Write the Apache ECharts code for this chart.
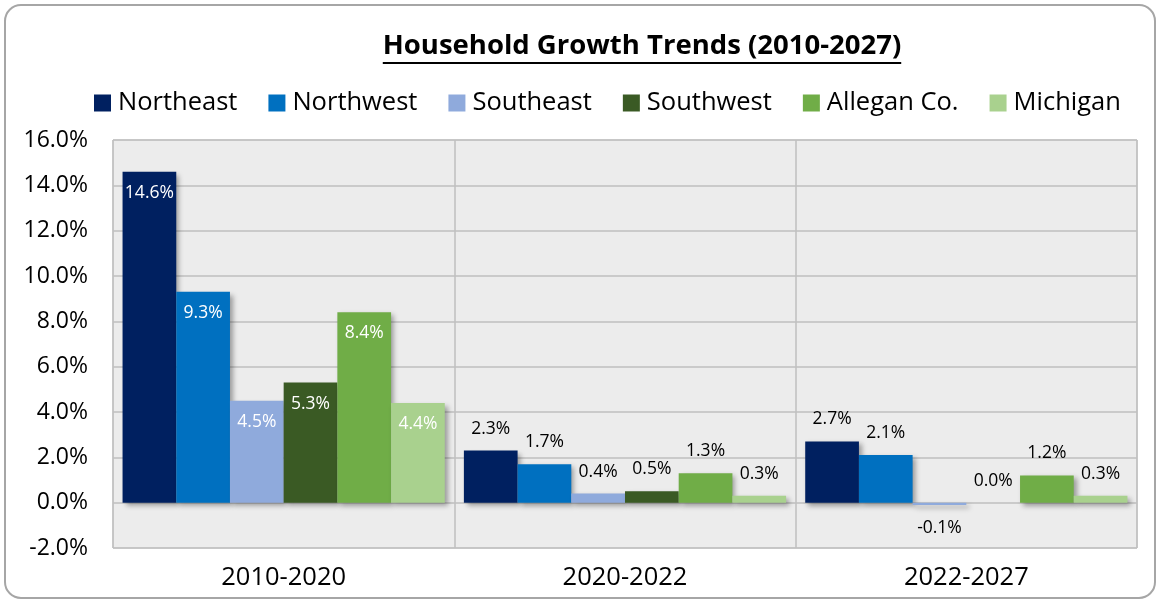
<!DOCTYPE html>
<html>
<head>
<meta charset="utf-8">
<script src="https://cdn.jsdelivr.net/npm/echarts@6/dist/echarts.min.js"></script>
<style>html,body{margin:0;padding:0;background:#fff}#c{width:1160px;height:603px}</style>
</head>
<body>
<div id="c"></div>
<script>
const categories = ['2010-2020', '2020-2022', '2022-2027'];
const seriesNames = ['Northeast', 'Northwest', 'Southeast', 'Southwest', 'Allegan Co.', 'Michigan'];
const northeast = [14.6, 2.3, 2.7];
const northwest = [9.3, 1.7, 2.1];
const southeast = [4.5, 0.4, -0.1];
const southwest = [5.3, 0.5, 0.0];
const allegan = [8.4, 1.3, 1.2];
const michigan = [4.4, 0.3, 0.3];
const yTicks = [-2, 0, 2, 4, 6, 8, 10, 12, 14, 16];
const titleText = 'Household Growth Trends (2010-2027)';

const colors = ['#002060', '#0070C0', '#8FAADC', '#3A5A24', '#70AD47', '#A9D18E'];
const values = [northeast, northwest, southeast, southwest, allegan, michigan];
const FONT = '"Open Sans", sans-serif';

const chart = echarts.init(document.getElementById('c'));

const ctx = document.createElement('canvas').getContext('2d');
ctx.font = 'bold 27.5px ' + FONT;
const tw = ctx.measureText(titleText).width;
const titleCx = 642;

const series = values.map((arr, si) => ({
  name: seriesNames[si],
  type: 'bar',
  barGap: '0%',
  barCategoryGap: '5.6%',
  itemStyle: {
    color: colors[si],
    shadowColor: 'rgba(0,0,0,0.35)',
    shadowBlur: 5,
    shadowOffsetX: 3,
    shadowOffsetY: 3
  },
  data: arr.map((v, ci) => {
    let label;
    if (ci === 0) {
      label = { show: true, position: 'insideTop', distance: 12, color: '#fff' };
    } else if (v < 0) {
      label = { show: true, position: 'bottom', distance: 14, color: '#000' };
    } else {
      label = { show: true, position: 'top', distance: 13, color: '#000' };
    }
    return { value: v, label: label };
  }),
  label: {
    fontSize: 17.5,
    fontFamily: FONT,
    formatter: p => p.value.toFixed(1) + '%'
  }
}));

chart.setOption({
  animation: false,
  backgroundColor: '#fff',
  textStyle: { fontFamily: FONT },
  graphic: [
    { type: 'rect', shape: { x: 5, y: 5, width: 1150, height: 593, r: 16 },
      style: { fill: 'none', stroke: '#a6a6a6', lineWidth: 2 }, z: -10 },
    { type: 'text', x: titleCx, y: 46, style: { text: titleText, font: 'bold 27.5px ' + FONT, fill: '#000', textAlign: 'center', textVerticalAlign: 'middle' } },
    { type: 'line', shape: { x1: titleCx - tw / 2, y1: 63, x2: titleCx + tw / 2, y2: 63 }, style: { stroke: '#000', lineWidth: 2 } }
  ],
  legend: {
    top: 85,
    left: 89,
    itemWidth: 17,
    itemHeight: 17,
    itemGap: 31,
    icon: 'rect',
    textStyle: { fontSize: 25.5, color: '#000', fontFamily: FONT, padding: [0, 0, 0, 2] },
    data: seriesNames
  },
  grid: {
    left: 113, right: 23, top: 140, bottom: 55,
    show: true, backgroundColor: '#ececec', borderColor: '#bfbfbf', borderWidth: 1
  },
  xAxis: {
    type: 'category',
    data: categories,
    axisLine: { show: false },
    axisTick: { show: false },
    axisLabel: { fontSize: 25.5, color: '#000', margin: 17, fontFamily: FONT },
    splitLine: { show: true, interval: 0, lineStyle: { color: '#bfbfbf', width: 1.5 } }
  },
  yAxis: {
    type: 'value',
    min: yTicks[0],
    max: yTicks[yTicks.length - 1],
    interval: 2,
    axisLine: { show: false },
    axisTick: { show: false },
    axisLabel: { fontSize: 23, color: '#000', margin: 25, fontFamily: FONT, formatter: v => v.toFixed(1) + '%' },
    splitLine: { lineStyle: { color: '#bfbfbf', width: 1.5 } }
  },
  series: series
});
</script>
</body>
</html>
